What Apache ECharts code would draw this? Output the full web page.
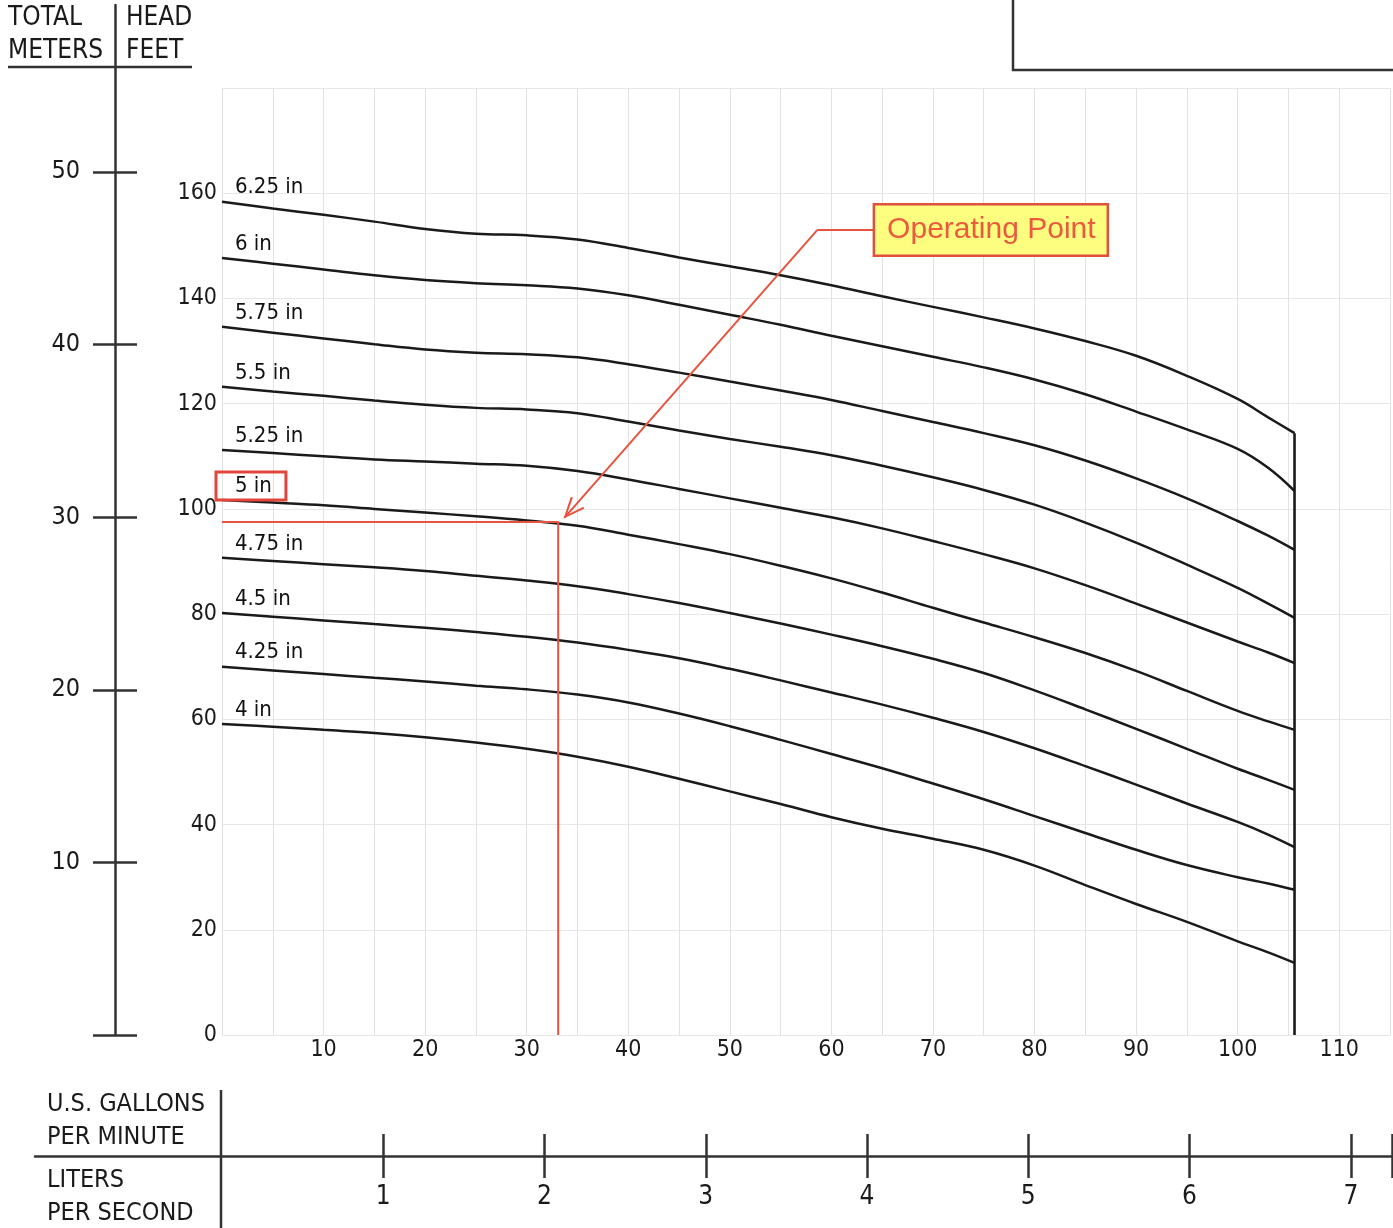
<!DOCTYPE html>
<html>
<head>
<meta charset="utf-8">
<script src="https://cdn.jsdelivr.net/npm/echarts@6/dist/echarts.min.js"></script>
<style>
  html, body { margin: 0; padding: 0; background: #fff; }
  #chart { width: 1393px; height: 1228px; }
</style>
</head>
<body>
<div id="chart"></div>
<script>
// Flow rate sample points (U.S. gallons per minute)
const flowGpm = [0, 5, 10, 15, 20, 25, 30, 35, 40, 45, 50, 55, 60, 65, 70, 75, 80, 85, 90, 95, 100, 103, 105.6];

// Total head (feet) for each impeller diameter
const head625 = [158.4, 157.1, 155.9, 154.6, 153.2, 152.3, 152.0, 151.2, 149.6, 147.8, 146.1, 144.4, 142.5, 140.4, 138.4, 136.4, 134.3, 131.9, 129.1, 125.3, 120.9, 117.4, 114.4];
const head600 = [147.7, 146.6, 145.5, 144.4, 143.5, 142.9, 142.5, 141.9, 140.6, 138.8, 136.9, 135.0, 132.9, 130.9, 128.9, 126.9, 124.6, 121.8, 118.5, 115.1, 111.4, 107.8, 103.4];
const head575 = [134.6, 133.5, 132.4, 131.3, 130.3, 129.7, 129.4, 128.8, 127.5, 125.9, 124.2, 122.5, 120.7, 118.6, 116.5, 114.4, 112.1, 109.2, 105.8, 102.0, 97.7, 94.9, 92.2];
const head550 = [123.2, 122.3, 121.5, 120.6, 119.8, 119.2, 118.9, 118.2, 116.6, 114.9, 113.3, 111.8, 110.2, 108.2, 106.0, 103.6, 100.8, 97.4, 93.6, 89.4, 85.0, 82.0, 79.3];
const head525 = [111.2, 110.6, 110.0, 109.4, 109.0, 108.6, 108.2, 107.2, 105.6, 103.8, 102.0, 100.2, 98.4, 96.3, 93.9, 91.4, 88.7, 85.5, 82.0, 78.4, 74.8, 72.7, 70.7];
const head500 = [101.7, 101.2, 100.7, 100.0, 99.3, 98.6, 97.8, 96.8, 95.1, 93.3, 91.4, 89.2, 86.8, 84.1, 81.2, 78.4, 75.6, 72.6, 69.2, 65.4, 61.6, 59.6, 58.0];
const head475 = [90.7, 90.1, 89.5, 88.9, 88.2, 87.3, 86.4, 85.3, 83.8, 82.1, 80.2, 78.2, 76.1, 73.9, 71.5, 68.8, 65.5, 61.9, 58.2, 54.4, 50.6, 48.5, 46.6];
const head450 = [80.2, 79.5, 78.8, 78.1, 77.4, 76.6, 75.7, 74.6, 73.2, 71.6, 69.6, 67.4, 65.1, 62.8, 60.3, 57.6, 54.5, 51.1, 47.6, 44.0, 40.5, 38.1, 35.7];
const head425 = [70.0, 69.3, 68.6, 67.9, 67.2, 66.4, 65.7, 64.7, 63.2, 61.1, 58.7, 56.1, 53.4, 50.7, 47.8, 44.8, 41.6, 38.4, 35.2, 32.3, 30.0, 28.8, 27.6];
const head400 = [59.1, 58.6, 58.0, 57.4, 56.6, 55.6, 54.4, 52.9, 51.0, 48.7, 46.3, 43.9, 41.4, 39.2, 37.3, 35.2, 32.2, 28.5, 24.9, 21.5, 17.8, 15.7, 13.7];

const impellerNames = ['6.25 in', '6 in', '5.75 in', '5.5 in', '5.25 in', '5 in', '4.75 in', '4.5 in', '4.25 in', '4 in'];
const impellerHeads = [head625, head600, head575, head550, head525, head500, head475, head450, head425, head400];
const selectedImpeller = '5 in';

// Duty point on the selected curve: [gpm, feet]
const operatingPoint = [33.1, 97.5];
// Callout box centre, leader elbow and arrow tip: [gpm, feet]
const calloutPos = [75.7, 153.0];
const leaderElbow = [58.6, 153.0];
const arrowTip = [33.7, 98.3];

// Axis ticks
const gpmLabels = [10, 20, 30, 40, 50, 60, 70, 80, 90, 100, 110];
const feetLabels = [0, 20, 40, 60, 80, 100, 120, 140, 160];
const meterLabels = [10, 20, 30, 40, 50];
const meterTicks = [0, 10, 20, 30, 40, 50];
const lpsLabels = [1, 2, 3, 4, 5, 6, 7];

const GPM_MAX = 115, FEET_MAX = 180;
const FT_PER_M = 3.28084, GPM_PER_LPS = 15.850323;

// Layout (pixels)
const PLOT_LEFT = 222, PLOT_RIGHT = 1, PLOT_TOP = 88, PLOT_BOTTOM = 193, CHART_W = 1393;
const METER_TOP = 5;
const LPS_LEFT = 35;

const plotW = CHART_W - PLOT_LEFT - PLOT_RIGHT;
const plotH = 1228 - PLOT_TOP - PLOT_BOTTOM;
const metersMax = FEET_MAX / FT_PER_M * (1228 - METER_TOP - PLOT_BOTTOM) / plotH;
const lpsMax = GPM_MAX / GPM_PER_LPS;
const lpsMin = -(PLOT_LEFT - LPS_LEFT) / (plotW / lpsMax);

const FONT = "'Liberation Sans Narrow', 'Arial Narrow', 'DejaVu Sans Condensed', sans-serif";
const INK = '#1a1a1a';
const RED = '#e8533f';

const chart = echarts.init(document.getElementById('chart'), null, { renderer: 'canvas' });

const curveSeries = impellerNames.map((name, k) => ({
  name: name,
  type: 'line',
  xAxisIndex: 0, yAxisIndex: 0,
  data: flowGpm.map((g, i) => [g, impellerHeads[k][i]]),
  smooth: 0.4,
  showSymbol: false,
  symbol: 'none',
  lineStyle: { color: INK, width: 2.5 },
  z: 3
}));

const lastIdx = flowGpm.length - 1;

const option = {
  animation: false,
  backgroundColor: '#ffffff',
  grid: [
    { left: PLOT_LEFT, right: PLOT_RIGHT, top: PLOT_TOP, bottom: PLOT_BOTTOM },
    { left: 115, width: 10, top: METER_TOP, bottom: PLOT_BOTTOM },
    { left: LPS_LEFT, right: PLOT_RIGHT, top: 1100, bottom: 72 }
  ],
  xAxis: [
    {
      gridIndex: 0, type: 'value', min: 0, max: GPM_MAX, interval: 5,
      axisLine: { show: false }, axisTick: { show: false },
      axisLabel: {
        fontFamily: FONT, fontSize: 23, color: INK, margin: 4,
        formatter: v => gpmLabels.includes(v) ? String(v) : ''
      },
      splitLine: { show: true, lineStyle: { color: '#e2e2e2', width: 1 } }
    },
    { gridIndex: 1, type: 'value', min: 0, max: 1, show: false },
    {
      gridIndex: 2, type: 'value', min: lpsMin, max: lpsMax, position: 'bottom',
      axisLine: { show: true, onZero: false, lineStyle: { color: '#333', width: 2.5 } },
      axisTick: { show: true, inside: true, length: 22, customValues: lpsLabels.concat([lpsMax]), lineStyle: { color: '#333', width: 2.5 } },
      axisLabel: { show: false },
      splitLine: { show: false }
    },
    {
      gridIndex: 2, type: 'value', min: lpsMin, max: lpsMax, position: 'bottom',
      axisLine: { show: false, onZero: false },
      axisTick: { show: true, inside: false, length: 22, customValues: lpsLabels.concat([lpsMax]), lineStyle: { color: '#333', width: 2.5 } },
      axisLabel: { show: true, customValues: lpsLabels, fontFamily: FONT, fontSize: 26, color: INK, margin: 28 },
      splitLine: { show: false }
    }
  ],
  yAxis: [
    {
      gridIndex: 0, type: 'value', min: 0, max: FEET_MAX, interval: 20,
      axisLine: { show: false }, axisTick: { show: false },
      axisLabel: {
        fontFamily: FONT, fontSize: 23, color: INK, margin: 5,
        formatter: v => feetLabels.includes(v) ? String(v) : ''
      },
      splitLine: { show: true, lineStyle: { color: '#e8e8e8', width: 1 } }
    },
    {
      gridIndex: 1, type: 'value', min: 0, max: metersMax, position: 'left',
      axisLine: { show: true, onZero: false, lineStyle: { color: '#333', width: 2.5 } },
      axisTick: { show: true, inside: false, length: 22, customValues: meterTicks, lineStyle: { color: '#333', width: 2.5 } },
      axisLabel: { show: true, customValues: meterLabels, fontFamily: FONT, fontSize: 25, color: INK, margin: 35 },
      splitLine: { show: false }
    },
    {
      gridIndex: 1, type: 'value', min: 0, max: metersMax, position: 'left',
      axisLine: { show: false, onZero: false },
      axisTick: { show: true, inside: true, length: 22, customValues: meterTicks, lineStyle: { color: '#333', width: 2.5 } },
      axisLabel: { show: false },
      splitLine: { show: false }
    },
    { gridIndex: 2, type: 'value', min: 0, max: 1, show: false }
  ],
  series: curveSeries.concat([
    {
      name: 'run-out limit',
      type: 'line', xAxisIndex: 0, yAxisIndex: 0,
      data: [[flowGpm[lastIdx], 0], [flowGpm[lastIdx], head625[lastIdx]]],
      symbol: 'none', lineStyle: { color: INK, width: 2.6 }, z: 3
    },
    {
      name: 'curve labels',
      type: 'scatter', xAxisIndex: 0, yAxisIndex: 0,
      symbolSize: 0,
      itemStyle: { opacity: 1 },
      data: impellerNames.map((name, k) => {
        const item = {
          value: [flowGpm[0], impellerHeads[k][0]],
          name: name,
          label: {
            show: true, position: 'inside', align: 'left', verticalAlign: 'middle',
            offset: [13, -14], formatter: name,
            fontFamily: FONT, fontSize: 22, color: '#111'
          }
        };
        if (name === selectedImpeller) {
          Object.assign(item.label, {
            offset: [-6, -14], padding: [3, 14, 3, 19],
            borderColor: '#e2463a', borderWidth: 3
          });
        }
        return item;
      }),
      z: 6
    },
    {
      name: 'operating lines',
      type: 'line', xAxisIndex: 0, yAxisIndex: 0,
      data: [[0, operatingPoint[1]], operatingPoint, [operatingPoint[0], 0]],
      symbol: 'none', lineStyle: { color: RED, width: 2 }, z: 4,
      markLine: {
        silent: true,
        symbol: ['none', 'none'],
        label: { show: false },
        lineStyle: { color: RED, width: 2, type: 'solid' },
        data: [
          [{ coord: calloutPos }, { coord: leaderElbow }],
          [{ coord: leaderElbow }, {
            coord: arrowTip,
            symbol: 'path://M10,0 L0,20 L2.2,21 L10,4.5 L17.8,21 L20,20 Z',
            symbolSize: [18, 22], symbolOffset: [0, 10]
          }]
        ]
      }
    },
    {
      name: 'Operating Point',
      type: 'scatter', xAxisIndex: 0, yAxisIndex: 0,
      symbolSize: 0,
      itemStyle: { opacity: 1 },
      data: [calloutPos],
      label: {
        show: true, position: 'inside', formatter: 'Operating Point',
        fontFamily: "'Liberation Sans', Arial, sans-serif", fontSize: 30, color: '#ec5a3e',
        backgroundColor: '#fdfd80', borderColor: '#e0503c', borderWidth: 2.5,
        padding: [10, 11, 9, 12]
      },
      z: 10
    }
  ]),
  graphic: [
    // header table for the vertical scales
    { type: 'text', left: 8, top: 5, style: { text: 'TOTAL', font: '26px ' + FONT, fill: INK } },
    { type: 'text', left: 8, top: 38, style: { text: 'METERS', font: '26px ' + FONT, fill: INK } },
    { type: 'text', left: 126, top: 5, style: { text: 'HEAD', font: '26px ' + FONT, fill: INK } },
    { type: 'text', left: 126, top: 38, style: { text: 'FEET', font: '26px ' + FONT, fill: INK } },
    { type: 'line', shape: { x1: 8, y1: 67, x2: 192, y2: 67 }, style: { stroke: '#333', lineWidth: 2.5 } },
    // footer table for the horizontal scales
    { type: 'text', left: 47, top: 1092, style: { text: 'U.S. GALLONS', font: '25px ' + FONT, fill: INK } },
    { type: 'text', left: 47, top: 1125, style: { text: 'PER MINUTE', font: '25px ' + FONT, fill: INK } },
    { type: 'text', left: 47, top: 1168, style: { text: 'LITERS', font: '25px ' + FONT, fill: INK } },
    { type: 'text', left: 47, top: 1201, style: { text: 'PER SECOND', font: '25px ' + FONT, fill: INK } },
    { type: 'line', shape: { x1: 221, y1: 1090, x2: 221, y2: 1228 }, style: { stroke: '#333', lineWidth: 2.5 } },
    // title block frame
    { type: 'rect', shape: { x: 1013, y: -10, width: 400, height: 80 }, style: { fill: 'none', stroke: '#333', lineWidth: 2.5 } }
  ]
};

chart.setOption(option);
</script>
</body>
</html>
